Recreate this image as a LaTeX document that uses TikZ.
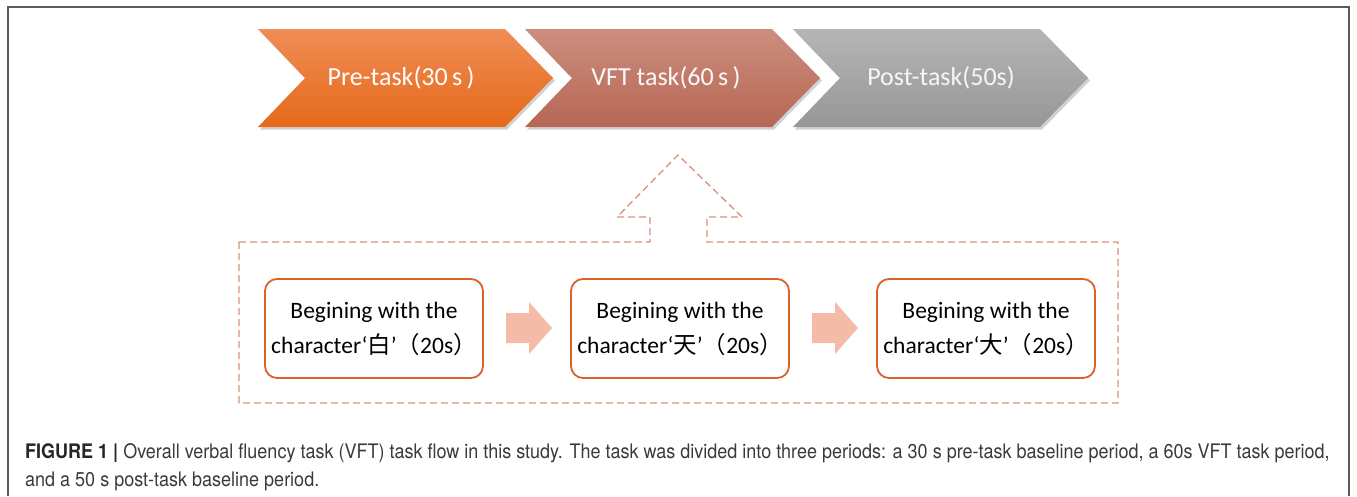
\documentclass[tikz,border=0pt]{standalone}
\usepackage{fontspec}
\setmainfont{Carlito}
\newfontfamily\cjk{Noto Sans CJK SC}
\newfontfamily\capfont[FakeStretch=0.90]{TeX Gyre Heros}
\definecolor{orTop}{HTML}{F08D55}
\definecolor{orBot}{HTML}{E5691A}
\definecolor{rdTop}{HTML}{CC8E7E}
\definecolor{rdBot}{HTML}{B76654}
\definecolor{gyTop}{HTML}{B5B5B5}
\definecolor{gyBot}{HTML}{979797}
\definecolor{dashc}{HTML}{DB8E7E}
\definecolor{boxc}{HTML}{D9622A}
\definecolor{arrc}{HTML}{F4BBA8}
\definecolor{capc}{HTML}{3A3A3A}
\definecolor{framec}{HTML}{5A5A5A}
\tikzset{
  chevtext/.style={text=white, font=\fontsize{26}{30}\selectfont, inner sep=0pt},
  shadowc/.style={fill=black, opacity=0.18},
  taskbox/.style={draw=boxc, line width=1.8pt, rounded corners=12pt, minimum width=218pt,
    minimum height=99pt, align=center, font=\fontsize{23.5}{35}\selectfont, inner sep=0pt},
  dashline/.style={draw=dashc, line width=1.3pt, dash pattern=on 7pt off 4pt},
  fatarrow/.style={fill=arrc, draw=none},
  captext/.style={text=capc, font=\capfont\fontsize{20}{24}\selectfont, inner sep=0pt, anchor=base west},
}
\newcommand\chevpath[1]{(#1,-29) -- ++(247,0) -- ++(48,-49) -- ++(-48,-49) -- ++(-247,0) -- ++(47,49) -- cycle}
\begin{document}
\begin{tikzpicture}[x=1pt,y=1pt]
\useasboundingbox (0,0) rectangle (1357,-496);
% outer frame
\draw[framec, line width=1.6pt] (8,-496) -- (8,-7) -- (1349,-7) -- (1349,-496);
% chevrons with shadow
\foreach \x in {258,525,793} {
  \fill[shadowc] ([xshift=2pt,yshift=-2.5pt]\x,-29) -- ++(247,0) -- ++(48,-49) -- ++(-48,-49) -- ++(-247,0) -- ++(47,49) -- cycle;
}
\shade[top color=orTop, bottom color=orBot] \chevpath{258};
\shade[top color=rdTop, bottom color=rdBot] \chevpath{525};
\shade[top color=gyTop, bottom color=gyBot] \chevpath{793};
\node[chevtext] (pre) at (401,-78) {Pre-task(30\,s\,)};
\node[chevtext, text=white!95!gray] (vft) at (666,-78) {VFT task(60\,s\,)};
\node[chevtext, text=white!93!gray] (post) at (941,-78) {Post-task(50s)};
% dashed outline with up-arrow
\draw[dashline] (239,-242) -- (650,-242) -- (650,-217) -- (617,-217) -- (678,-155)
  -- (742,-217) -- (707,-217) -- (707,-242) -- (1118,-242) -- (1118,-403) -- (239,-403) -- cycle;
% task boxes
\node[taskbox] (b1) at (374,-328.5) {Begining with the\\character‘{\cjk 白}’{\cjk （}20s{\cjk ）}};
\node[taskbox] (b2) at (680,-328.5) {Begining with the\\character‘{\cjk 天}’{\cjk （}20s{\cjk ）}};
\node[taskbox] (b3) at (986,-328.5) {Begining with the\\character‘{\cjk 大}’{\cjk （}20s{\cjk ）}};
% fat arrows
\fill[fatarrow] (506,-313) -- (529,-313) -- (529,-302) -- (552,-328) -- (529,-354) -- (529,-343) -- (506,-343) -- cycle;
\fill[fatarrow] (812,-313) -- (835,-313) -- (835,-302) -- (858,-328) -- (835,-354) -- (835,-343) -- (812,-343) -- cycle;
% caption
\node[captext] (cap1) at (25,-458) {{\bfseries\color{black!85}FIGURE 1 |} Overall verbal fluency task (VFT) task flow in this study. The task was divided into three periods: a 30 s pre-task baseline period, a 60s VFT task period,};
\node[captext] (cap2) at (25,-486) {and a 50 s post-task baseline period.};
\end{tikzpicture}
\end{document}
